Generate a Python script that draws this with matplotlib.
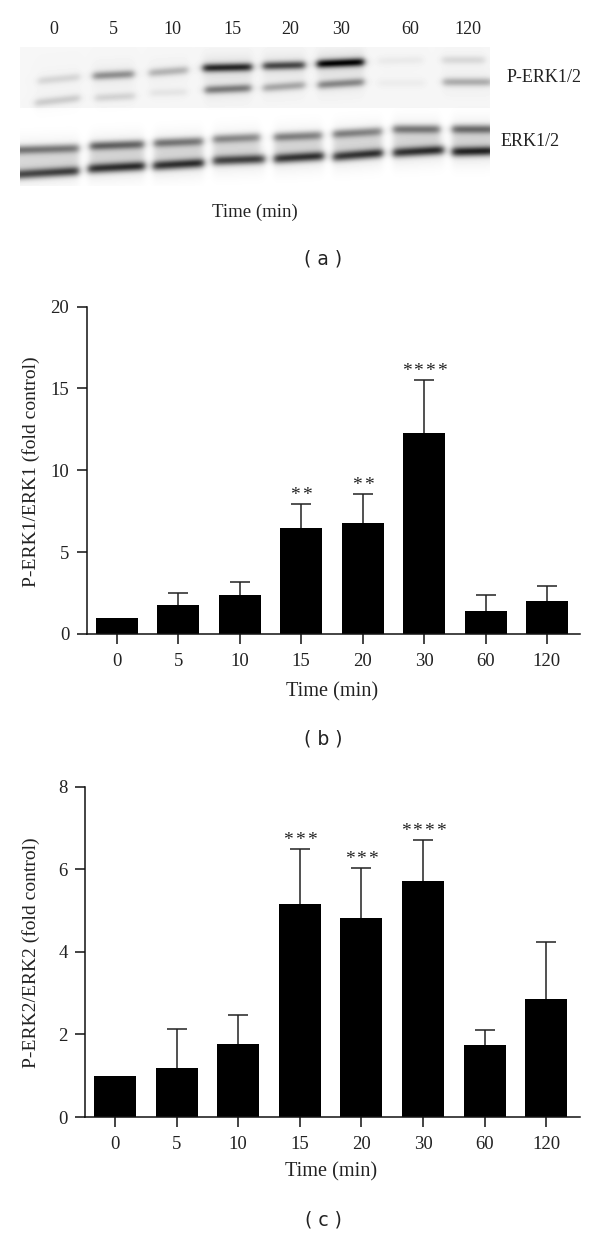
import numpy as np
import matplotlib
matplotlib.use("Agg")
import matplotlib.pyplot as plt

W, H = 600, 1236

plt.rcParams['font.family'] = ['Liberation Serif', 'DejaVu Serif']

tiempos = ['0', '5', '10', '15', '20', '30', '60', '120']

# panel b
erk1_vals = [1.0, 1.8, 2.4, 6.45, 6.78, 12.25, 1.4, 2.03]
erk1_tops = [1.0, 2.48, 3.2, 7.96, 8.57, 15.5, 2.38, 2.95]
erk1_stars = [0, 0, 0, 2, 2, 4, 0, 0]

# panel c
erk2_vals = [1.0, 1.19, 1.76, 5.15, 4.83, 5.71, 1.75, 2.85]
erk2_tops = [1.0, 2.14, 2.47, 6.5, 6.03, 6.72, 2.1, 4.24]
erk2_stars = [0, 0, 0, 3, 3, 4, 0, 0]

# blot bands, one row per lane: x start, x end, y start, y end, darkness (image pixels)
perk_alta = [(38, 80, 81, 77, .13), (93, 134, 76, 74, .42), (149, 188, 73, 70, .27), (203, 252, 68, 67, .85),
             (263, 305, 66, 65, .72), (317, 364, 64, 62, 1.0), (378, 423, 61, 60, .05), (442, 485, 60, 60, .12)]
perk_baja = [(35, 80, 103, 98, .17), (95, 135, 98, 96, .14), (150, 187, 93, 92, .07), (205, 251, 90, 88, .5),
             (263, 305, 88, 85, .32), (318, 364, 85, 82, .45), (378, 425, 83, 83, .04), (443, 492, 82, 82, .3)]
erk_alta = [(12, 79, 150, 148, .5), (90, 144, 146, 144, .58), (154, 203, 143, 141, .5), (213, 260, 139, 137, .42),
            (274, 322, 137, 135, .45), (333, 382, 134, 131, .45), (393, 440, 129, 129, .5), (452, 495, 129, 129, .55)]
erk_baja = [(12, 79, 175, 171, .72), (88, 145, 169, 166, .8), (153, 204, 166, 163, .8), (213, 265, 161, 159, .72),
            (274, 324, 159, 156, .78), (333, 383, 157, 153, .78), (393, 444, 153, 150, .8), (452, 495, 152, 151, .85)]


def blot():
    yy, xx = np.mgrid[47:186, 20:490] + 0.5
    img = np.zeros(xx.shape)
    img[yy < 108] = 0.035
    for bandas, sig in [(perk_alta, 3.0), (perk_baja, 3.0), (erk_alta, 3.2), (erk_baja, 3.4)]:
        for x0, x1, y0, y1, d in bandas:
            t = np.clip((xx - x0) / (x1 - x0), 0, 1)
            yc = y0 + (y1 - y0) * t
            borde = (np.tanh((xx - x0) / 4) - np.tanh((xx - x1) / 4)) / 2
            img += d * borde * np.exp(-((yy - yc) / sig) ** 2 / 2) * 0.85
            img += d * borde * np.exp(-((yy - yc) / (sig * 3)) ** 2 / 2) * 0.1
    # grey smear between the two ERK bands of each lane
    for (x0, x1, y0, y1, d), (_, _, y2, y3, _) in zip(erk_alta, erk_baja):
        borde = (np.tanh((xx - x0) / 4) - np.tanh((xx - x1) / 4)) / 2
        dentro = (np.tanh((yy - (y0 + y1) / 2) / 3) - np.tanh((yy - (y2 + y3) / 2) / 3)) / 2
        img += 0.1 * borde * dentro
    return np.clip(1 - img, 0, 1)


def caja(izq, der, arr, aba):
    return [izq / W, 1 - aba / H, (der - izq) / W, (aba - arr) / H]


def txt(x, y, s, **kw):
    kw.setdefault('ha', 'center')
    kw.setdefault('va', 'center')
    kw.setdefault('color', '#222222')
    fig.text(x / W, 1 - y / H, s, **kw)


def barras(ax, izq, vals, tops, stars, ymax, yticks, x0, paso):
    pos = np.arange(len(vals))
    ax.bar(pos, vals, width=42 / paso, color='black', zorder=2)
    for p, v, t, n in zip(pos, vals, tops, stars):
        if t > v:
            ax.vlines(p, v, t, color='#222222', lw=1.1, zorder=1)
            ax.plot([p], [t], marker='_', ms=14.4, mew=1.1, color='#222222', zorder=1)
        # each star on its own so the gaps match
        for k in range(n):
            ax.annotate('*', (p, t), xytext=((k - (n - 1) / 2) * 8.4, 0), textcoords='offset points',
                        ha='center', va='bottom', fontsize=14, color='#222222')
    ax.set_xlim((izq - x0) / paso, (580 - x0) / paso)
    ax.set_ylim(0, ymax)
    ax.set_yticks(yticks)
    ax.set_xticks(pos)
    ax.set_xticklabels(tiempos)
    ax.tick_params(axis='both', length=7, width=1.1, labelsize=13.5, color='#111111', labelcolor='#222222')
    ax.tick_params(axis='y', pad=5.5)
    ax.tick_params(axis='x', pad=7)
    for lado in ['top', 'right']:
        ax.spines[lado].set_visible(False)
    for lado in ['left', 'bottom']:
        ax.spines[lado].set_linewidth(1.1)
        ax.spines[lado].set_color('#111111')


fig = plt.figure(figsize=(W / 100, H / 100), dpi=100)

# panel a
ax_a = fig.add_axes(caja(20, 490, 47, 186))
ax_a.imshow(blot(), cmap='gray', vmin=0, vmax=1, aspect='auto', interpolation='bilinear')
ax_a.axis('off')
for x, t in zip([54, 113, 172, 232, 290, 341, 410, 468], tiempos):
    txt(x, 30, t, fontsize=13)
txt(544, 77, 'P-ERK1/2', fontsize=13)
txt(530, 141, 'ERK1/2', fontsize=13)
txt(255, 212, 'Time (min)', fontsize=13.5)
txt(323, 259, '( a )', fontsize=13.5, family='DejaVu Sans')

# panel b
ax_b = fig.add_axes(caja(86.5, 580, 306.5, 634))
barras(ax_b, 86.5, erk1_vals, erk1_tops, erk1_stars, 20, [0, 5, 10, 15, 20], 116.8, 61.45)
txt(31, 472, 'P-ERK1/ERK1 (fold control)', rotation=90, fontsize=14)
txt(332, 692, 'Time (min)', fontsize=14.6)
txt(323, 739, '( b )', fontsize=13.5, family='DejaVu Sans')

# panel c
ax_c = fig.add_axes(caja(85, 580, 786.7, 1117))
barras(ax_c, 85, erk2_vals, erk2_tops, erk2_stars, 8, [0, 2, 4, 6, 8], 115, 61.6)
txt(31, 953, 'P-ERK2/ERK2 (fold control)', rotation=90, fontsize=14)
txt(331, 1172, 'Time (min)', fontsize=14.6)
txt(323, 1220, '( c )', fontsize=13.5, family='DejaVu Sans')

fig.savefig('out.png', dpi=100)
